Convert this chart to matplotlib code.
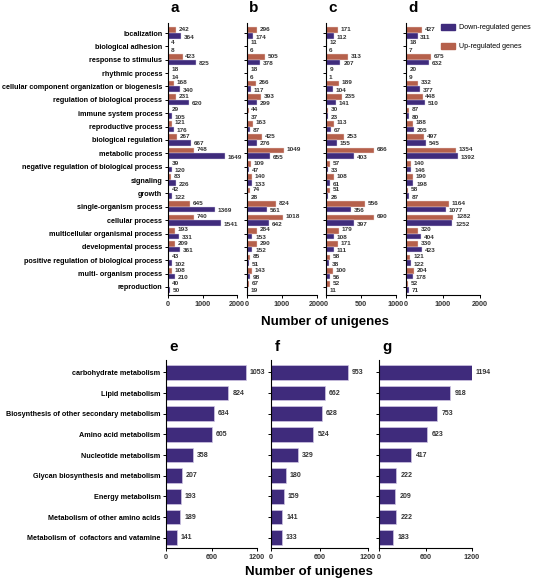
import matplotlib
matplotlib.use("Agg")
import matplotlib.pyplot as plt
from matplotlib.patches import Patch

plt.rcParams["font.family"] = ["Liberation Sans", "DejaVu Sans"]
plt.rcParams["font.weight"] = "bold"

W, H = 539, 583
DOWN = "#3f2b7c"
UP = "#b5604b"
TXT = "#333333"

# ---- GO terms (panels a-d) ----
go_terms = ["localization", "biological adhesion", "response to stimulus",
            "rhythmic process", "cellular component organization or biogenesis",
            "regulation of biological process", "immune system process",
            "reproductive process", "biological regulation", "metabolic process",
            "negative regulation of biological process", "signaling", "growth",
            "single-organism process", "cellular process",
            "multicellular organismal process", "developmental process",
            "positive regulation of biological process", "multi- organism process",
            "reproduction"]

a_up = [242, 4, 423, 18, 168, 231, 29, 121, 267, 748, 39, 83, 42, 645, 740, 193, 209, 43, 108, 40]
a_down = [364, 8, 825, 14, 340, 620, 105, 176, 667, 1649, 120, 226, 122, 1369, 1541, 331, 361, 102, 210, 50]
b_up = [296, 11, 505, 18, 266, 393, 44, 163, 425, 1049, 109, 140, 74, 824, 1018, 284, 290, 85, 143, 67]
b_down = [174, 6, 378, 6, 117, 299, 37, 87, 276, 655, 47, 133, 28, 561, 642, 153, 152, 51, 98, 19]
c_up = [171, 12, 313, 9, 189, 235, 30, 113, 253, 686, 57, 108, 51, 556, 690, 179, 171, 58, 100, 52]
c_down = [112, 6, 207, 1, 104, 141, 23, 67, 155, 403, 33, 61, 26, 356, 397, 108, 111, 38, 56, 11]
d_up = [427, 18, 675, 20, 332, 448, 87, 188, 497, 1354, 140, 190, 58, 1164, 1282, 320, 330, 121, 204, 52]
d_down = [311, 7, 632, 9, 377, 510, 80, 205, 545, 1392, 146, 198, 87, 1077, 1252, 404, 423, 122, 178, 71]

# ---- KEGG pathways (panels e-g) ----
kegg_terms = ["carbohydrate metabolism", "Lipid metabolism",
              "Biosynthesis of other secondary metabolism", "Amino acid metabolism",
              "Nucleotide metabolism", "Glycan biosynthesis and metabolism",
              "Energy metabolism", "Metabolism of other amino acids",
              "Metabolism of  cofactors and vatamine"]
e_vals = [1053, 824, 634, 605, 358, 207, 193, 189, 141]
f_vals = [953, 662, 628, 524, 329, 180, 159, 141, 133]
g_vals = [1194, 918, 753, 623, 417, 222, 209, 222, 183]

fig = plt.figure(figsize=(W / 100, H / 100), dpi=100)


def px_ax(x0, x1, y0, y1):
    return fig.add_axes([x0 / W, 1 - y1 / H, (x1 - x0) / W, (y1 - y0) / H])


def style(ax):
    for s in ("top", "right"):
        ax.spines[s].set_visible(False)
    for s in ("left", "bottom"):
        ax.spines[s].set_linewidth(0.8)
    ax.tick_params(length=2.5, width=0.7, pad=1.5, labelsize=5.2, colors="black")
    for lab in ax.get_xticklabels():
        lab.set_color(TXT)


def go_panel(x0, x1, up, down, xmax, ticks, letter, show_labels):
    ax = px_ax(x0, x1, 23, 295)
    n = len(go_terms)
    ys = list(range(n))
    hb = 0.42
    ax.barh([y - 0.21 for y in ys], up, height=hb, color=UP, edgecolor="#ead8d2", lw=0.3)
    ax.barh([y + 0.21 for y in ys], down, height=hb, color=DOWN, edgecolor="#d8d0e8", lw=0.3)
    for y, u, d in zip(ys, up, down):
        ax.annotate(str(u), (u, y - 0.27), xytext=(2, 0), textcoords="offset points",
                    ha="left", va="center", fontsize=4.6, color=TXT)
        ax.annotate(str(d), (d, y + 0.3), xytext=(2, 0), textcoords="offset points",
                    ha="left", va="center", fontsize=4.6, color=TXT)
    ax.set_ylim(n - 0.4, -0.75)
    ax.set_xlim(0, xmax)
    ax.set_xticks(ticks)
    ax.set_yticks(ys)
    if show_labels:
        ax.set_yticklabels(go_terms, fontsize=4.75, color=TXT)
    else:
        ax.set_yticklabels([])
    style(ax)
    ax.text(0.03, 1.03, letter, transform=ax.transAxes, fontsize=11,
            fontweight="bold", ha="left", va="bottom")
    return ax


go_panel(168, 237, a_up, a_down, 2000, [0, 1000, 2000], "a", True)
go_panel(247, 317, b_up, b_down, 2000, [0, 1000, 2000], "b", False)
go_panel(326, 396, c_up, c_down, 1000, [0, 500, 1000], "c", False)
go_panel(406, 480, d_up, d_down, 2000, [0, 1000, 2000], "d", False)

handles = [Patch(facecolor=DOWN, edgecolor=DOWN), Patch(facecolor=UP, edgecolor=UP)]
fig.legend(handles, ["Down-regulated genes", "Up-regulated genes"],
           loc="upper left", bbox_to_anchor=(438 / W, 1 - 21 / H), frameon=False,
           handlelength=2.0, handleheight=1.0, handletextpad=0.6, labelspacing=1.6,
           borderaxespad=0, prop={"weight": "normal", "size": 5.1})

fig.text(325 / W, 1 - 322 / H, "Number of unigenes", ha="center", va="center",
         fontsize=9.5, fontweight="bold")


def kegg_panel(x0, x1, vals, letter, show_labels):
    ax = px_ax(x0, x1, 360, 548)
    ys = list(range(len(kegg_terms)))
    ax.barh(ys, vals, height=0.72, color=DOWN, edgecolor="#cfc6e3", lw=0.5)
    for y, v in zip(ys, vals):
        ax.annotate(str(v), (v, y), xytext=(3, 0), textcoords="offset points",
                    ha="left", va="center", fontsize=5.0, color=TXT)
    ax.set_ylim(len(kegg_terms) - 0.5, -0.6)
    ax.set_xlim(0, 1200)
    ax.set_xticks([0, 600, 1200])
    ax.set_yticks(ys)
    if show_labels:
        ax.set_yticklabels(kegg_terms, fontsize=5.4, color=TXT)
    else:
        ax.set_yticklabels([])
    style(ax)
    ax.text(0.04, 1.03, letter, transform=ax.transAxes, fontsize=11,
            fontweight="bold", ha="left", va="bottom")
    return ax


kegg_panel(166, 257, e_vals, "e", True)
kegg_panel(271, 368, f_vals, "f", False)
kegg_panel(379, 472, g_vals, "g", False)

fig.text(309 / W, 1 - 572 / H, "Number of unigenes", ha="center", va="center",
         fontsize=9.5, fontweight="bold")

fig.savefig("out.png", dpi=100, facecolor="white")
